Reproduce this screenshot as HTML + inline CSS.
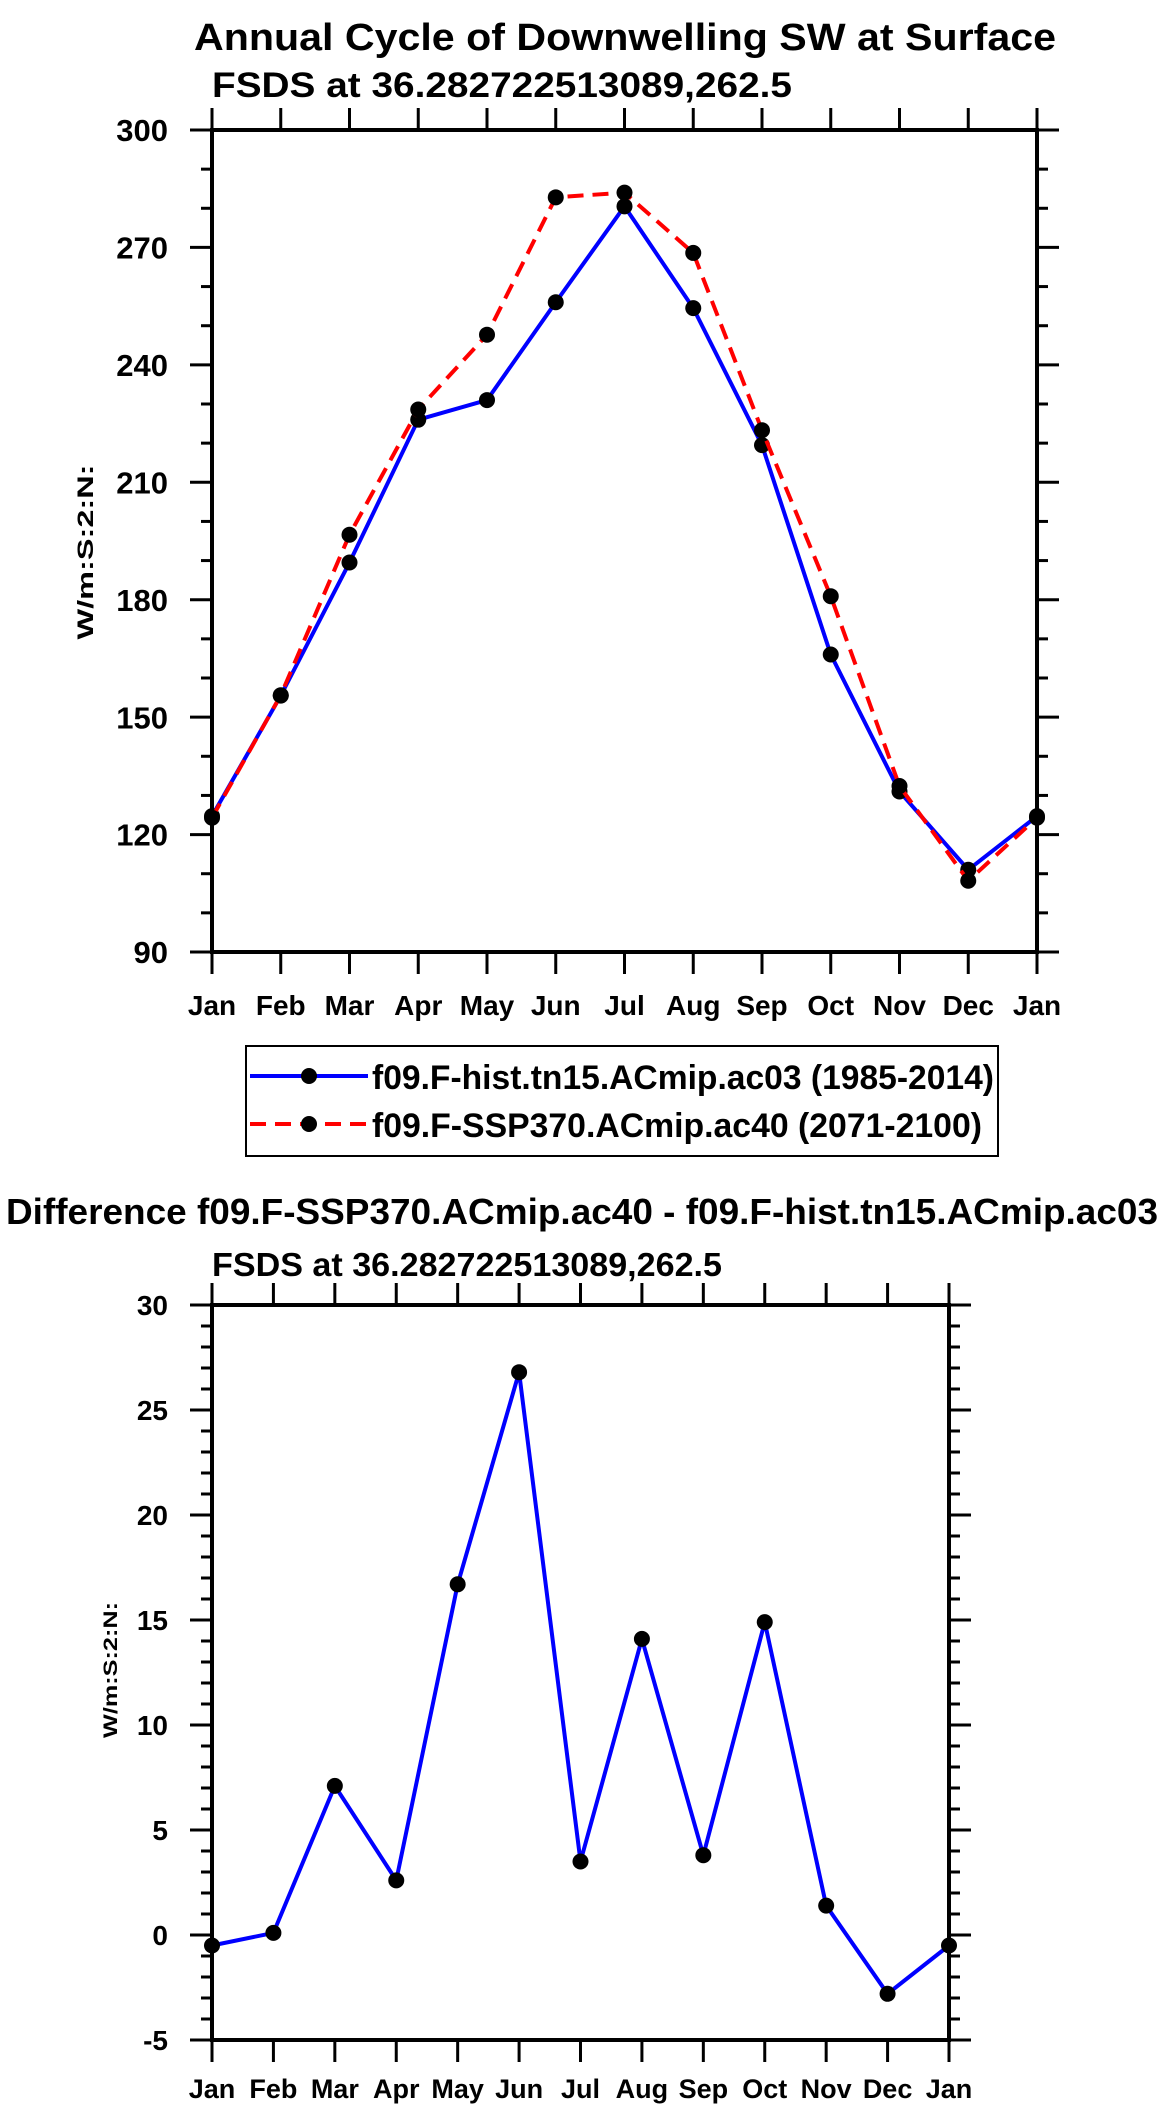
<!DOCTYPE html>
<html><head><meta charset="utf-8"><style>
body{margin:0;background:#fff}
svg{display:block}
text{font-family:"Liberation Sans",Arial,sans-serif;font-weight:bold;fill:#000}
</style></head><body>
<svg id="svg" width="1161" height="2107" viewBox="0 0 1161 2107" xmlns="http://www.w3.org/2000/svg">
<text x="625" y="50" text-anchor="middle" font-size="38" textLength="862" lengthAdjust="spacingAndGlyphs">Annual Cycle of Downwelling SW at Surface</text>
<text x="212" y="97" font-size="35" textLength="580" lengthAdjust="spacingAndGlyphs">FSDS at 36.282722513089,262.5</text>
<text x="0" y="0" font-size="22" text-anchor="middle" transform="translate(93,552) rotate(-90)" textLength="175" lengthAdjust="spacingAndGlyphs">W/m:S:2:N:</text>
<g id="gtop"></g>
<g>
<rect x="246" y="1046" width="752" height="110" fill="none" stroke="#000" stroke-width="2"/>
<g>
<line x1="250" y1="1076" x2="368" y2="1076" stroke="#0000ff" stroke-width="4"/>
<circle cx="309" cy="1076" r="8" fill="#000"/>
<text x="372" y="1089" font-size="34" textLength="622" lengthAdjust="spacingAndGlyphs">f09.F-hist.tn15.ACmip.ac03 (1985-2014)</text>
</g>
<g>
<line x1="250" y1="1124" x2="368" y2="1124" stroke="#ff0000" stroke-width="4" stroke-dasharray="16,9"/>
<circle cx="309" cy="1124" r="8" fill="#000"/>
<text x="372" y="1137" font-size="34" textLength="610" lengthAdjust="spacingAndGlyphs">f09.F-SSP370.ACmip.ac40 (2071-2100)</text>
</g>
</g>
<text x="582" y="1224" text-anchor="middle" font-size="36" textLength="1152" lengthAdjust="spacingAndGlyphs">Difference f09.F-SSP370.ACmip.ac40 - f09.F-hist.tn15.ACmip.ac03</text>
<text x="212" y="1276" font-size="33" textLength="510" lengthAdjust="spacingAndGlyphs">FSDS at 36.282722513089,262.5</text>
<text x="0" y="0" font-size="19" text-anchor="middle" transform="translate(117,1670) rotate(-90)" textLength="136" lengthAdjust="spacingAndGlyphs">W/m:S:2:N:</text>
<g id="gbot"></g>
</svg>
<script>
const months = ["Jan","Feb","Mar","Apr","May","Jun","Jul","Aug","Sep","Oct","Nov","Dec","Jan"];
const histValues = [124.7,155.5,189.5,226,231,256,280.5,254.5,219.5,166,131,111,124.7];
const sspValues = [124.3,155.6,196.6,228.6,247.7,282.8,284,268.6,223.3,180.9,132.4,108.2,124.3];
const diffValues = [-0.5,0.1,7.1,2.6,16.7,26.8,3.5,14.1,3.8,14.9,1.4,-2.8,-0.5];
const topTicks = [90,120,150,180,210,240,270,300];
const diffTicks = [-5,0,5,10,15,20,25,30];
const NS = "http://www.w3.org/2000/svg";
function mk(parent, tag, attrs){const e=document.createElementNS(NS,tag);for(const k in attrs)e.setAttribute(k,attrs[k]);parent.appendChild(e);return e;}
function plot(g, cfg){
  const {x0,x1,y0,y1,ymin,ymax,ticks,minorStep,fs,labFs,labY,prefix}=cfg;
  const xs=i=>x0+(x1-x0)*i/(months.length-1);
  const ys=v=>y1-(v-ymin)/(ymax-ymin)*(y1-y0);
  const frame=mk(g,'rect',{x:x0,y:y0,width:x1-x0,height:y1-y0,fill:'none',stroke:'#000','stroke-width':4});
  
  
  const n=Math.round((ymax-ymin)/minorStep);
  for(let k=0;k<=n;k++){
    const v=ymin+k*minorStep;
    const major=ticks.some(t=>Math.abs(t-v)<1e-6);const L=major?22:11;
    mk(g,'line',{x1:x0-L,y1:ys(v),x2:x0,y2:ys(v),stroke:'#000','stroke-width':3});
    mk(g,'line',{x1:x1,y1:ys(v),x2:x1+L,y2:ys(v),stroke:'#000','stroke-width':3});
  }
  ticks.forEach(t=>{
    const tx=mk(g,'text',{x:x0-44,y:ys(t)+fs*0.36,'text-anchor':'end','font-size':fs});
    tx.textContent=t;
    
    
  });
  months.forEach((m,i)=>{
    mk(g,'line',{x1:xs(i),y1:y0-22,x2:xs(i),y2:y0,stroke:'#000','stroke-width':3});
    mk(g,'line',{x1:xs(i),y1:y1,x2:xs(i),y2:y1+22,stroke:'#000','stroke-width':3});
    const tx=mk(g,'text',{x:xs(i),y:labY,'text-anchor':'middle','font-size':labFs});
    tx.textContent=m;
    
    
  });
  return {xs,ys};
}
function series(g,ax,vals,color,dash,name){
  const pts=vals.map((v,i)=>ax.xs(i)+','+ax.ys(v)).join(' ');
  const pl=mk(g,'polyline',{points:pts,fill:'none',stroke:color,'stroke-width':4,'stroke-dasharray':dash||'none','stroke-linejoin':'round'});
  
  
  vals.forEach((v,i)=>{
    const c=mk(g,'circle',{cx:ax.xs(i),cy:ax.ys(v),r:8,fill:'#000'});
    
    
  });
}
const gTop=document.getElementById('gtop');
const axT=plot(gTop,{x0:212,x1:1037,y0:130,y1:952,ymin:90,ymax:300,ticks:topTicks,minorStep:10,fs:31,labFs:28,labY:1015,prefix:'top'});
series(gTop,axT,histValues,'#0000ff',null,'hist');
series(gTop,axT,sspValues,'#ff0000','16,9','ssp370');
const gBot=document.getElementById('gbot');
const axB=plot(gBot,{x0:212,x1:949,y0:1305,y1:2040,ymin:-5,ymax:30,ticks:diffTicks,minorStep:1,fs:28,labFs:27,labY:2098,prefix:'diff'});
series(gBot,axB,diffValues,'#0000ff',null,'diff');
</script>
</body></html>
